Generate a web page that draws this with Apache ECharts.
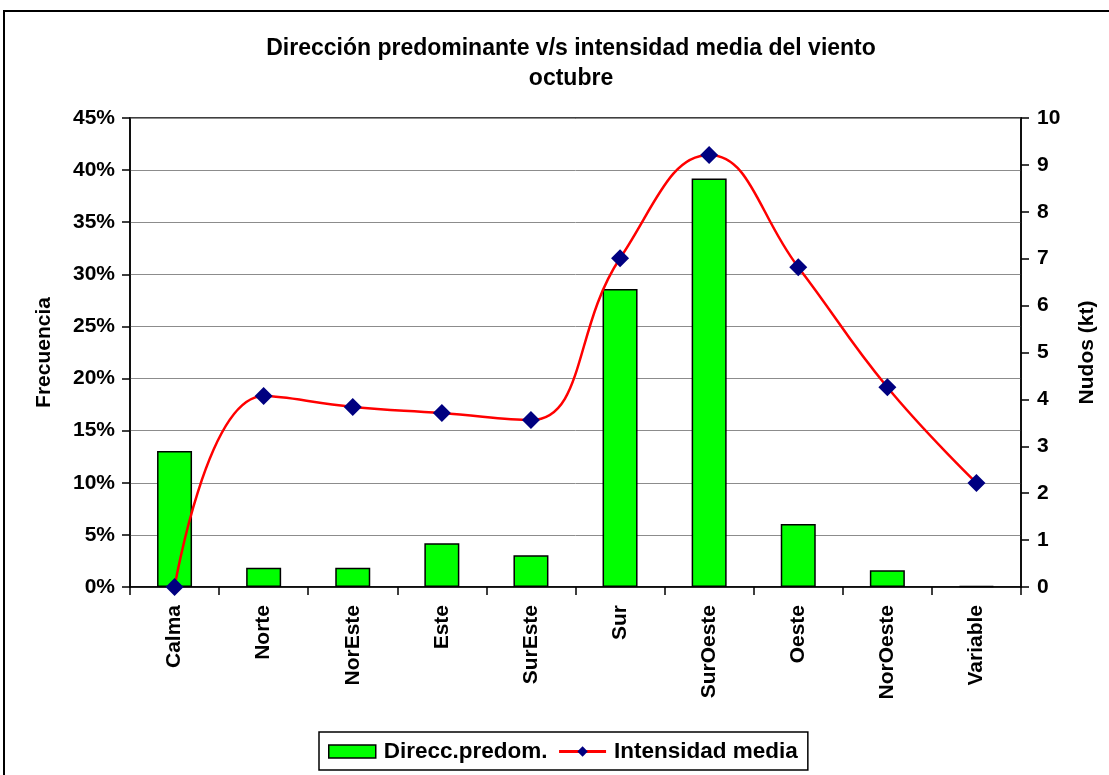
<!DOCTYPE html>
<html>
<head>
<meta charset="utf-8">
<script src="https://cdn.jsdelivr.net/npm/echarts@6/dist/echarts.min.js"></script>
<style>
  html, body { margin: 0; padding: 0; background: #fff; }
  #chart { width: 1109px; height: 775px; }
</style>
</head>
<body>
<div id="chart"></div>
<script>
const categories = ["Calma", "Norte", "NorEste", "Este", "SurEste", "Sur", "SurOeste", "Oeste", "NorOeste", "Variable"];
const frecuencia = [13.05, 1.85, 1.85, 4.2, 3.05, 28.6, 39.2, 6.05, 1.6, 0.1]; // %
const intensidad = [0, 4.07, 3.84, 3.71, 3.56, 7.01, 9.21, 6.82, 4.26, 2.22]; // kt

const font = "'Liberation Sans', Arial, sans-serif";
const chart = echarts.init(document.getElementById("chart"));

chart.setOption({
  animation: false,
  textStyle: { fontFamily: font },
  title: {
    text: "Dirección predominante v/s intensidad media del viento\noctubre",
    left: 566,
    textAlign: "center",
    top: 29,
    textStyle: { fontSize: 23, fontWeight: "bold", color: "#000", lineHeight: 30, fontFamily: font },
  },
  graphic: [
    {
      type: "rect",
      shape: { x: 4, y: 11, width: 1200, height: 900 },
      style: { fill: "none", stroke: "#000", lineWidth: 2 },
      silent: true,
    },
  ],
  grid: {
    left: 130,
    right: 88,
    top: 118,
    bottom: 188,
    show: true,
    borderColor: "#000",
    borderWidth: 1.5,
  },
  legend: {
    left: 319,
    top: 732,
    padding: [8, 10, 7, 9],
    borderColor: "#000",
    borderWidth: 1.5,
    itemGap: 10,
    itemWidth: 47,
    itemHeight: 13,
    textStyle: { fontSize: 22.5, fontWeight: "bold", color: "#000", fontFamily: font, padding: [0, 0, 0, 3] },
    data: [
      { name: "Direcc.predom.", icon: "rect", itemStyle: { color: "#00ff00", borderColor: "#000", borderWidth: 1.5 } },
      { name: "Intensidad media", lineStyle: { width: 3 } },
    ],
  },
  xAxis: {
    type: "category",
    data: categories,
    axisLine: { lineStyle: { color: "#000", width: 1.5 } },
    axisTick: { show: true, length: 8, lineStyle: { color: "#000", width: 1.5 } },
    axisLabel: {
      rotate: 90,
      margin: 18,
      color: "#000",
      fontSize: 21,
      fontWeight: "bold",
      fontFamily: font,
    },
  },
  yAxis: [
    {
      type: "value",
      name: "Frecuencia",
      nameLocation: "middle",
      nameGap: 75,
      nameRotate: 90,
      nameTextStyle: { fontSize: 21, fontWeight: "bold", color: "#000", fontFamily: font },
      min: 0,
      max: 45,
      interval: 5,
      axisLine: { show: true, lineStyle: { color: "#000", width: 1.5 } },
      axisTick: { show: true, length: 8, lineStyle: { color: "#000", width: 1.5 } },
      axisLabel: { formatter: "{value}%", color: "#000", fontSize: 21, fontWeight: "bold", margin: 15, fontFamily: font },
      splitLine: { show: true, lineStyle: { color: "#8c8c8c", width: 1 } },
    },
    {
      type: "value",
      name: "Nudos (kt)",
      nameLocation: "middle",
      nameGap: 56,
      nameRotate: 90,
      nameTextStyle: { fontSize: 21, fontWeight: "bold", color: "#000", fontFamily: font },
      min: 0,
      max: 10,
      interval: 1,
      axisLine: { show: true, lineStyle: { color: "#000", width: 1.5 } },
      axisTick: { show: true, length: 8, lineStyle: { color: "#000", width: 1.5 } },
      axisLabel: { color: "#000", fontSize: 21, fontWeight: "bold", margin: 16, fontFamily: font },
      splitLine: { show: false },
    },
  ],
  series: [
    {
      name: "Direcc.predom.",
      type: "bar",
      yAxisIndex: 0,
      barWidth: 35,
      data: frecuencia,
      itemStyle: { color: "#00ff00", borderColor: "#000", borderWidth: 1.5 },
    },
    {
      name: "Intensidad media",
      type: "line",
      yAxisIndex: 1,
      smooth: 0.45,
      data: intensidad,
      symbol: "diamond",
      symbolSize: 18,
      lineStyle: { color: "#ff0000", width: 2.5 },
      itemStyle: { color: "#000080" },
      z: 5,
    },
  ],
});
</script>
</body>
</html>
